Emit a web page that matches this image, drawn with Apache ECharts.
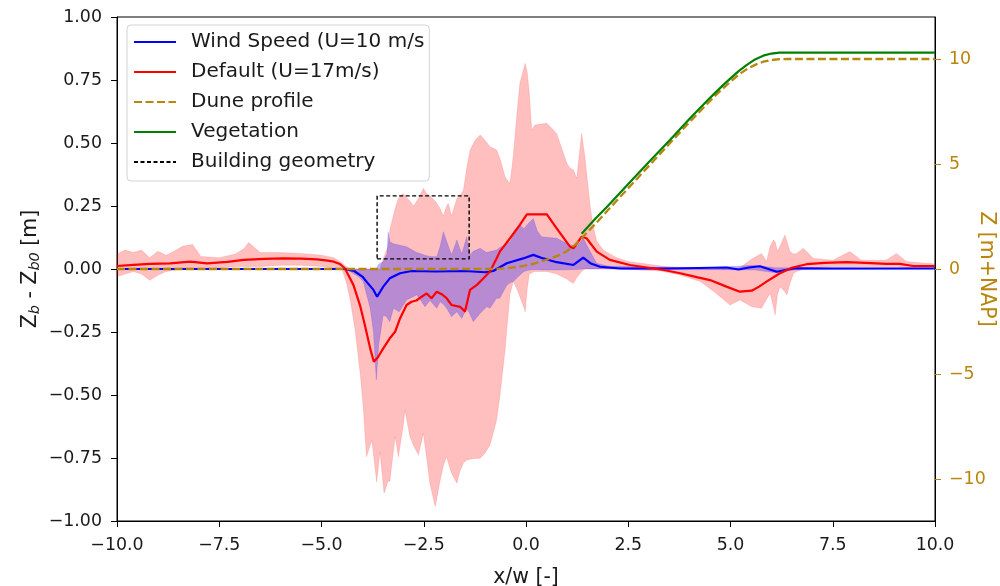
<!DOCTYPE html>
<html>
<head>
<meta charset="utf-8">
<script src="https://cdn.jsdelivr.net/npm/echarts@6/dist/echarts.min.js"></script>
<style>
html,body{margin:0;padding:0;background:#fff;}
#chart{width:1000px;height:586px;}
</style>
</head>
<body>
<div id="chart"></div>
<script>
// ---------- Data ----------
const xTickValues = [-10, -7.5, -5, -2.5, 0, 2.5, 5, 7.5, 10];
const leftTickValues = [-1, -0.75, -0.5, -0.25, 0, 0.25, 0.5, 0.75, 1];
const rightTickValues = [-10, -5, 0, 5, 10];

// Wind Speed (U=10 m/s) mean line
const windX = [-10, -4.45, -4.2, -4.0, -3.9, -3.73, -3.64, -3.49, -3.33, -3.08, -2.8, -2.2, -1.5, -1.0, -0.8, -0.47, -0.07, 0.18, 0.42, 0.75, 1.16, 1.40, 1.57, 1.81, 2.3, 3.5, 4.9, 5.2, 5.45, 5.72, 6.13, 6.4, 6.6, 7.5, 10];
const windY = [0, 0, -0.008, -0.03, -0.05, -0.083, -0.11, -0.07, -0.037, -0.017, -0.008, -0.01, -0.008, -0.013, -0.008, 0.023, 0.042, 0.056, 0.042, 0.027, 0.016, 0.045, 0.023, 0.009, 0.002, 0.002, 0.006, -0.002, 0.006, 0.011, -0.011, -0.002, 0.003, 0.002, 0.002];

// Default (U=17m/s) mean line
const defX = [-10, -9.6, -9.2, -8.7, -8.21, -7.8, -7.3, -6.9, -6.4, -5.92, -5.5, -5.11, -4.85, -4.70, -4.55, -4.43, -4.22, -4.06, -3.94, -3.81, -3.72, -3.62, -3.49, -3.33, -3.2, -3.08, -2.92, -2.8, -2.68, -2.55, -2.43, -2.31, -2.18, -2.06, -1.94, -1.82, -1.61, -1.49, -1.37, -1.2, -1.04, -0.88, -0.72, -0.64, -0.39, -0.15, 0.02, 0.51, 0.75, 1.08, 1.16, 1.36, 1.48, 1.73, 2.05, 2.54, 3.0, 3.4, 3.77, 4.2, 4.5, 4.9, 5.23, 5.52, 5.7, 5.88, 6.21, 6.5, 6.86, 7.3, 7.84, 8.3, 8.82, 9.14, 9.47, 10];
const defY = [0.012, 0.016, 0.02, 0.022, 0.029, 0.022, 0.028, 0.036, 0.04, 0.042, 0.041, 0.038, 0.033, 0.029, 0.02, 0.003, -0.063, -0.143, -0.222, -0.315, -0.368, -0.35, -0.315, -0.275, -0.249, -0.196, -0.143, -0.13, -0.125, -0.11, -0.097, -0.116, -0.09, -0.1, -0.116, -0.143, -0.15, -0.169, -0.083, -0.063, -0.037, -0.01, 0.042, 0.069, 0.122, 0.175, 0.217, 0.217, 0.161, 0.088, 0.082, 0.128, 0.122, 0.069, 0.036, 0.016, 0.005, -0.005, -0.017, -0.033, -0.044, -0.07, -0.09, -0.086, -0.07, -0.05, -0.017, 0.005, 0.019, 0.024, 0.027, 0.024, 0.02, 0.02, 0.012, 0.012];

// Default spread band (lower / upper)
const defBandX = [-10, -9.8, -9.6, -9.4, -9.2, -9.0, -8.8, -8.6, -8.4, -8.15, -7.95, -7.5, -7.1, -6.9, -6.78, -6.5, -6.0, -5.5, -5.0, -4.7, -4.5, -4.4, -4.3, -4.18, -4.05, -3.98, -3.9, -3.77, -3.65, -3.57, -3.47, -3.37, -3.33, -3.2, -3.12, -3.0, -2.96, -2.84, -2.75, -2.63, -2.51, -2.43, -2.35, -2.22, -2.1, -2.02, -1.94, -1.90, -1.82, -1.69, -1.61, -1.53, -1.45, -1.37, -1.25, -1.12, -1.0, -0.88, -0.72, -0.64, -0.51, -0.47, -0.39, -0.31, -0.22, -0.15, -0.08, -0.02, 0.03, 0.08, 0.14, 0.22, 0.51, 0.75, 1.0, 1.08, 1.16, 1.24, 1.36, 1.44, 1.57, 1.65, 1.73, 1.89, 2.05, 2.22, 2.5, 2.87, 3.3, 3.77, 4.26, 4.6, 4.99, 5.23, 5.52, 5.76, 5.88, 5.97, 6.05, 6.09, 6.15, 6.21, 6.33, 6.38, 6.45, 6.54, 6.62, 6.78, 7.03, 7.5, 7.92, 8.2, 8.8, 9.06, 9.3, 10];
const defBandLo = [-0.03, -0.02, -0.01, -0.02, -0.045, -0.025, -0.01, -0.005, 0.0, 0.005, 0.005, 0.005, 0.01, 0.01, 0.01, 0.01, 0.015, 0.015, 0.01, 0.005, 0.0, -0.05, -0.12, -0.24, -0.42, -0.55, -0.745, -0.68, -0.845, -0.725, -0.89, -0.84, -0.844, -0.665, -0.745, -0.62, -0.56, -0.665, -0.70, -0.738, -0.652, -0.75, -0.85, -0.943, -0.84, -0.78, -0.745, -0.77, -0.811, -0.85, -0.80, -0.77, -0.758, -0.755, -0.752, -0.751, -0.73, -0.698, -0.6, -0.507, -0.32, -0.242, -0.10, -0.05, -0.08, -0.11, -0.14, -0.17, -0.08, -0.02, -0.015, -0.01, -0.01, -0.02, -0.04, -0.05, -0.057, -0.035, -0.01, 0.0, 0.0, 0.0, 0.0, 0.0, 0.0, 0.0, -0.002, -0.005, -0.008, -0.024, -0.05, -0.09, -0.143, -0.123, -0.15, -0.156, -0.12, -0.097, -0.15, -0.183, -0.10, -0.07, -0.09, -0.103, -0.06, -0.017, -0.01, 0.0, 0.005, 0.01, 0.01, 0.01, 0.01, 0.01, 0.005, 0.005];
const defBandHi = [0.06, 0.075, 0.065, 0.075, 0.045, 0.07, 0.055, 0.07, 0.09, 0.097, 0.05, 0.045, 0.06, 0.08, 0.105, 0.065, 0.065, 0.062, 0.055, 0.045, 0.025, 0.01, 0.0, 0.0, 0.0, 0.0, 0.0, 0.0, 0.0, 0.0, 0.05, 0.09, 0.155, 0.24, 0.28, 0.3, 0.29, 0.27, 0.25, 0.28, 0.32, 0.30, 0.29, 0.27, 0.24, 0.21, 0.25, 0.26, 0.21, 0.28, 0.29, 0.313, 0.40, 0.47, 0.51, 0.532, 0.51, 0.485, 0.472, 0.44, 0.366, 0.355, 0.34, 0.45, 0.62, 0.737, 0.78, 0.816, 0.78, 0.70, 0.552, 0.571, 0.578, 0.538, 0.419, 0.40, 0.393, 0.36, 0.538, 0.446, 0.247, 0.165, 0.11, 0.075, 0.06, 0.045, 0.03, 0.022, 0.012, 0.005, 0.0, 0.0, 0.0, 0.005, 0.04, 0.062, 0.03, 0.09, 0.115, 0.108, 0.07, 0.09, 0.135, 0.11, 0.07, 0.06, 0.062, 0.082, 0.042, 0.035, 0.069, 0.035, 0.035, 0.062, 0.03, 0.02];

// Wind Speed spread band (lower / upper)
const windBandX = [-10, -4.5, -4.3, -4.1, -3.98, -3.81, -3.73, -3.66, -3.6, -3.49, -3.4, -3.37, -3.33, -3.24, -3.1, -2.92, -2.67, -2.59, -2.47, -2.35, -2.18, -2.1, -2.02, -1.94, -1.82, -1.69, -1.57, -1.45, -1.37, -1.29, -1.12, -0.96, -0.88, -0.72, -0.64, -0.47, -0.39, -0.31, -0.15, -0.05, 0.05, 0.18, 0.28, 0.38, 0.75, 1.08, 1.25, 1.40, 1.57, 1.73, 2.0, 3.0, 4.5, 5.6, 6.1, 6.6, 10];
const windBandLo = [0, 0, -0.01, -0.03, -0.05, -0.156, -0.25, -0.44, -0.3, -0.183, -0.19, -0.2, -0.209, -0.156, -0.17, -0.123, -0.103, -0.12, -0.15, -0.125, -0.156, -0.13, -0.14, -0.156, -0.189, -0.17, -0.196, -0.156, -0.18, -0.209, -0.176, -0.15, -0.156, -0.116, -0.116, -0.064, -0.055, -0.05, -0.024, -0.01, -0.005, -0.003, -0.003, -0.004, -0.004, -0.003, -0.002, 0, 0, 0, 0, -0.002, -0.003, -0.004, -0.015, -0.003, 0];
const windBandHi = [0.003, 0.003, 0.0, 0.0, 0.0, 0.0, 0.0, 0.0, 0.02, 0.03, 0.06, 0.148, 0.108, 0.1, 0.095, 0.088, 0.065, 0.062, 0.055, 0.05, 0.049, 0.09, 0.148, 0.11, 0.056, 0.115, 0.06, 0.128, 0.056, 0.07, 0.082, 0.065, 0.069, 0.075, 0.085, 0.1, 0.108, 0.13, 0.175, 0.16, 0.18, 0.2, 0.15, 0.128, 0.122, 0.095, 0.09, 0.122, 0.069, 0.023, 0.012, 0.008, 0.006, 0.015, 0.005, 0.005, 0.003];

// Dune profile (right axis, m+NAP)
const duneX = [-10, -1.0, -0.7, -0.4, -0.2, 0, 0.2, 0.4, 0.6, 0.8, 1.0, 1.2, 1.4, 1.7, 2.0, 2.5, 3.0, 3.5, 4.0, 4.5, 4.75, 5.0, 5.2, 5.4, 5.6, 5.8, 6.0, 6.2, 6.4, 10];
const duneZ = [0, 0, 0.01, 0.05, 0.1, 0.17, 0.26, 0.38, 0.5, 0.65, 0.85, 1.15, 1.55, 2.15, 2.8, 3.85, 4.9, 5.95, 7.0, 8.0, 8.48, 8.92, 9.25, 9.52, 9.72, 9.87, 9.95, 9.99, 10.0, 10.0];

// Vegetation (right axis, m+NAP)
const vegX = [1.36, 1.7, 2.0, 2.5, 3.0, 3.52, 4.0, 4.5, 4.8, 5.0, 5.2, 5.4, 5.6, 5.8, 6.0, 6.2, 10];
const vegZ = [1.68, 2.4, 3.0, 4.05, 5.08, 6.14, 7.15, 8.15, 8.72, 9.08, 9.42, 9.72, 9.98, 10.16, 10.26, 10.3, 10.3];

// Building geometry rectangle
const buildX = [-3.64, -1.39, -1.39, -3.64, -3.64];
const buildY = [0.04, 0.04, 0.29, 0.29, 0.04];

// ---------- Chart ----------
const FONT = 'DejaVu Sans';
const GOLD = '#b8860b';
const TXT = '#1a1a1a';
const pairs = (xs, ys) => xs.map((x, i) => [x, ys[i]]);
const minus = s => s.replace('-', '\u2212');

function bandRenderer(xs, lo, hi, fill, stroke) {
  return function (params, api) {
    if (params.dataIndex !== 0) return;
    const pts = [];
    for (let i = 0; i < xs.length; i++) pts.push(api.coord([xs[i], hi[i]]));
    for (let i = xs.length - 1; i >= 0; i--) pts.push(api.coord([xs[i], lo[i]]));
    return { type: 'polygon', shape: { points: pts }, style: { fill: fill, stroke: stroke, lineWidth: 1 } };
  };
}

const chart = echarts.init(document.getElementById('chart'), null, { renderer: 'canvas' });
const option = {
  animation: false,
  backgroundColor: '#fff',
  grid: { left: 117, right: 65, top: 17, bottom: 65, containLabel: false, outerBoundsMode: 'none',
    show: true, borderColor: '#000', borderWidth: 1, backgroundColor: 'transparent' },
  legend: {
    orient: 'vertical', left: 127, top: 25,
    padding: [6, 5, 8, 6], itemGap: 8, itemWidth: 42, itemHeight: 22,
    backgroundColor: '#fff', borderColor: '#d3d3d3', borderWidth: 1, borderRadius: 4,
    itemStyle: { opacity: 0 },
    textStyle: { fontFamily: FONT, fontSize: 20, color: TXT, lineHeight: 22, padding: [0, 0, 0, 10] },
    data: ['Wind Speed (U=10 m/s', 'Default (U=17m/s)', 'Dune profile', 'Vegetation', 'Building geometry']
  },
  xAxis: {
    type: 'value', min: -10, max: 10, interval: 2.5,
    name: 'x/w [-]', nameLocation: 'middle', nameGap: 46, nameMoveOverlap: false,
    nameTextStyle: { fontFamily: FONT, fontSize: 20.5, color: TXT },
    axisLine: { show: true, onZero: false, lineStyle: { color: '#000', width: 1 } },
    axisTick: { show: true, length: 6, lineStyle: { color: '#000' } },
    splitLine: { show: false },
    axisLabel: { fontFamily: FONT, fontSize: 17.4, color: TXT, margin: 16,
      formatter: v => minus(v.toFixed(1)) }
  },
  yAxis: [
    {
      type: 'value', min: -1, max: 1, interval: 0.25,
      name: '{n|Z}{s|b}{n| - Z}{s|b0}{n| [m]}', nameLocation: 'middle', nameGap: 74, nameRotate: 90,
      nameMoveOverlap: false,
      nameTextStyle: { fontFamily: FONT, color: TXT,
        rich: {
          n: { fontFamily: FONT, fontSize: 20.5, color: TXT, lineHeight: 24 },
          s: { fontFamily: FONT, fontSize: 14.5, fontStyle: 'italic', color: TXT, lineHeight: 14, verticalAlign: 'bottom' }
        } },
      axisLine: { show: true, onZero: false, lineStyle: { color: '#000', width: 1 } },
      axisTick: { show: true, length: 6, lineStyle: { color: '#000' } },
      splitLine: { show: false },
      axisLabel: { fontFamily: FONT, fontSize: 17.4, color: TXT, margin: 15,
        formatter: v => minus(v.toFixed(2)) }
    },
    {
      type: 'value', min: -12, max: 12, position: 'right',
      name: 'Z [m+NAP]', nameLocation: 'middle', nameGap: 41, nameRotate: -90,
      nameMoveOverlap: false,
      nameTextStyle: { fontFamily: FONT, fontSize: 20.5, color: GOLD },
      axisLine: { show: true, onZero: false, lineStyle: { color: '#000', width: 1 } },
      axisTick: { show: true, length: 6, lineStyle: { color: GOLD }, customValues: rightTickValues },
      splitLine: { show: false },
      axisLabel: { fontFamily: FONT, fontSize: 17.4, color: GOLD, margin: 14, customValues: rightTickValues,
        formatter: v => minus(String(v)) }
    }
  ],
  series: [
    {
      type: 'custom', name: 'defBand', coordinateSystem: 'cartesian2d', silent: true, z: 1,
      data: [[defBandX[0], defBandLo[0]]], encode: { x: 0, y: 1 },
      renderItem: bandRenderer(defBandX, defBandLo, defBandHi, 'rgba(255,0,0,0.25)', 'rgba(255,0,0,0.12)')
    },
    {
      type: 'custom', name: 'windBand', coordinateSystem: 'cartesian2d', silent: true, z: 1,
      data: [[windBandX[0], windBandLo[0]]], encode: { x: 0, y: 1 },
      renderItem: bandRenderer(windBandX, windBandLo, windBandHi, 'rgba(0,0,255,0.28)', 'rgba(0,0,255,0.12)')
    },
    {
      type: 'line', name: 'Wind Speed (U=10 m/s', data: pairs(windX, windY), symbol: 'none', z: 3,
      lineStyle: { color: '#0000ff', width: 2.2 }, itemStyle: { color: '#0000ff' }
    },
    {
      type: 'line', name: 'Default (U=17m/s)', data: pairs(defX, defY), symbol: 'none', z: 3,
      lineStyle: { color: '#ff0000', width: 2.2 }, itemStyle: { color: '#ff0000' }
    },
    {
      type: 'line', name: 'Dune profile', yAxisIndex: 1, data: pairs(duneX, duneZ), symbol: 'none', z: 4,
      lineStyle: { color: GOLD, width: 2.3, type: [8, 3.5] }, itemStyle: { color: GOLD }
    },
    {
      type: 'line', name: 'Vegetation', yAxisIndex: 1, data: pairs(vegX, vegZ), symbol: 'none', z: 4,
      lineStyle: { color: '#008000', width: 2.2 }, itemStyle: { color: '#008000' }
    },
    {
      type: 'line', name: 'Building geometry', data: pairs(buildX, buildY), symbol: 'none', z: 5,
      lineStyle: { color: '#000', width: 1.4, type: [4, 2.5] }, itemStyle: { color: '#000' }
    }
  ]
};
chart.setOption(option);
</script>
</body>
</html>
